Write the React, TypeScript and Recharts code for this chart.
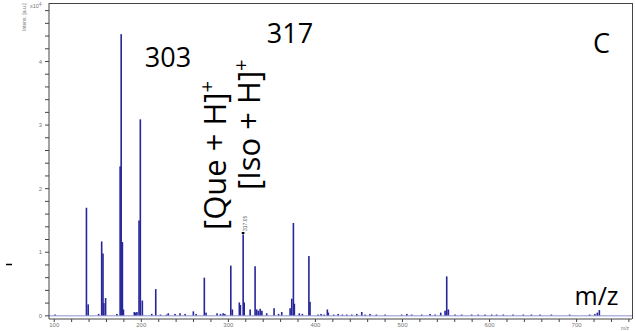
import React from 'react';
import { ComposedChart, Bar, XAxis, YAxis, ReferenceLine } from 'recharts';

// m/z of each peak
const peakMz = [
  101, 137, 139, 151, 154.5, 156, 157, 159, 172, 175.7, 176.9, 178.3, 179.5,
  192, 193.5, 195, 197.4, 198.9, 201.2, 212, 216.6, 222, 229, 231, 238.8,
  244.5, 250.3, 259.8, 263, 272.4, 274.4, 287, 291, 294, 296, 302.8, 304.6,
  312.6, 313.8, 317, 318.2, 325, 330.7, 332.6, 334.5, 336.5, 338.5, 344,
  352.5, 357.7, 361.3, 370.9, 372.8, 374.7, 375.8, 381.5, 385, 392.5, 393.8,
  403, 406.5, 410, 413.7, 414.8, 421, 426, 431, 436, 441.7, 447.5, 453.2,
  457, 462.7, 470, 480, 499, 505, 510.6, 522, 531.7, 537.4, 543.9, 548.9,
  550.8, 552.7, 560.4, 568, 579.5, 587, 594.8, 602.5, 608, 615.8, 627,
  638.8, 648, 658, 671, 692, 715, 721, 723.8, 726.1,
];

// intensity in units of 10^4 a.u.
const peakIntensity = [
  0.02, 1.7, 0.18, 0.03, 1.17, 0.98, 0.2, 0.28, 0.03, 2.35, 4.43, 1.16, 0.1,
  0.06, 0.05, 0.06, 1.5, 3.09, 0.24, 0.03, 0.42, 0.02, 0.02, 0.04, 0.03,
  0.04, 0.03, 0.07, 0.03, 0.6, 0.05, 0.04, 0.03, 0.04, 0.03, 0.79, 0.1,
  0.21, 0.17, 1.28, 0.21, 0.1, 0.78, 0.1, 0.08, 0.11, 0.08, 0.04,
  0.12, 0.03, 0.06, 0.12, 0.27, 1.46, 0.19, 0.04, 0.03, 0.94, 0.22,
  0.02, 0.03, 0.02, 0.1, 0.05, 0.02, 0.03, 0.02, 0.02, 0.02, 0.03, 0.06,
  0.02, 0.03, 0.02, 0.02, 0.02, 0.03, 0.02, 0.02, 0.03, 0.02, 0.05, 0.08,
  0.62, 0.1, 0.02, 0.02, 0.02, 0.02, 0.02, 0.02, 0.02, 0.02, 0.02,
  0.02, 0.02, 0.02, 0.02, 0.02, 0.02, 0.03, 0.05, 0.09,
];

const xTicks = [
  100, 120, 140, 160, 180, 200, 220, 240, 260, 280, 300, 320, 340, 360, 380,
  400, 420, 440, 460, 480, 500, 520, 540, 560, 580, 600, 620, 640, 660, 680,
  700, 720, 740, 760,
];
const xTickLabels = ['100', '200', '300', '400', '500', '600', '700'];

const yTicks = [
  0, 0.2, 0.4, 0.6, 0.8, 1, 1.2, 1.4, 1.6, 1.8, 2, 2.2, 2.4, 2.6, 2.8, 3, 3.2,
  3.4, 3.6, 3.8, 4, 4.2, 4.4, 4.6, 4.8,
];
const yTickLabels = ['0', '1', '2', '3', '4'];

const data = peakMz.map((mz, i) => ({ mz, intensity: peakIntensity[i] }));

const tickStyle = { fontSize: 6, fill: '#777', fontFamily: 'Liberation Sans, Arial, sans-serif' };
const annFont = "'Open Sans', 'Noto Sans', sans-serif";

const STICK_W = 1.6;
const StickShape = (props: any) => {
  const { x, y, width, height } = props;
  if (x == null || y == null || !isFinite(height)) return null;
  const cx = x + (width || 0) / 2;
  return <rect x={cx - STICK_W / 2} y={y} width={STICK_W} height={Math.max(height, 0)} fill="#26269a" />;
};

export default function App() {
  return (
    <div style={{ position: 'absolute', left: 0, top: 0, width: 635, height: 331, background: '#fff' }}>
      <ComposedChart width={635} height={331} data={data} margin={{ top: 3, right: 3, bottom: 0, left: 0 }}>
        <XAxis
          dataKey="mz"
          type="number"
          domain={[94, 763.6]}
          allowDataOverflow
          ticks={xTicks}
          interval={0}
          tickFormatter={(v: number) => (xTickLabels.includes(String(v)) ? String(v) : '')}
          tickSize={3}
          tickMargin={1}
          height={12}
          stroke="#444"
          tick={tickStyle}
        />
        <YAxis
          type="number"
          domain={[-0.05, 4.92]}
          allowDataOverflow
          ticks={yTicks}
          interval={0}
          tickFormatter={(v: number) => (yTickLabels.includes(String(v)) ? String(v) : '')}
          tickSize={4}
          tickMargin={3}
          width={49}
          stroke="#444"
          tick={tickStyle}
        />
        <ReferenceLine y={0} stroke="#9090d0" strokeWidth={1} />
        <Bar dataKey="intensity" fill="#26269a" shape={StickShape} isAnimationActive={false} />
      </ComposedChart>
      <svg
        width={635}
        height={331}
        style={{ position: 'absolute', left: 0, top: 0, pointerEvents: 'none' }}
      >
        <line x1={49} y1={3.5} x2={632.5} y2={3.5} stroke="#444" strokeWidth={1} />
        <line x1={632.5} y1={3} x2={632.5} y2={319} stroke="#444" strokeWidth={1} />
        <line x1={6} y1={264.5} x2={12} y2={264.5} stroke="#000" strokeWidth={1.5} />
        <text x={30} y={8} fontSize={5.5} fill="#777" fontFamily="Liberation Sans, Arial, sans-serif">
          x10<tspan dy={-2} fontSize={4.5}>4</tspan>
        </text>
        <text
          transform="translate(26,31) rotate(-90)"
          fontSize={5}
          fill="#777"
          fontFamily="Liberation Sans, Arial, sans-serif"
        >
          Intens. [a.u.]
        </text>
        <text x={621} y={329.5} fontSize={5} fill="#777" fontFamily="Liberation Sans, Arial, sans-serif">
          m/z
        </text>
        <text x={168} y={67} fontSize={27} textAnchor="middle" fontFamily={annFont} fill="#000">303</text>
        <text x={290} y={43} fontSize={27} textAnchor="middle" fontFamily={annFont} fill="#000">317</text>
        <text x={601.5} y={53} fontSize={27} textAnchor="middle" fontFamily={annFont} fill="#000">C</text>
        <text x={596.5} y={305} fontSize={25} textAnchor="middle" fontFamily={annFont} fill="#000">m/z</text>
        <text transform="translate(226,230) rotate(-90)" fontSize={31} fontFamily={annFont} fill="#000">
          [Que + H]<tspan dy={-12} fontSize={20}>+</tspan>
        </text>
        <text transform="translate(260,190) rotate(-90)" fontSize={31} fontFamily={annFont} fill="#000">
          [Iso + H]<tspan dy={-12} fontSize={20}>+</tspan>
        </text>
        <text
          transform="translate(246.5,231) rotate(-90)"
          fontSize={5}
          fill="#555"
          fontFamily="Liberation Sans, Arial, sans-serif"
        >
          317.05
        </text>
        <rect x={241.8} y={232} width={2.6} height={2} fill="#000" />
      </svg>
    </div>
  );
}
